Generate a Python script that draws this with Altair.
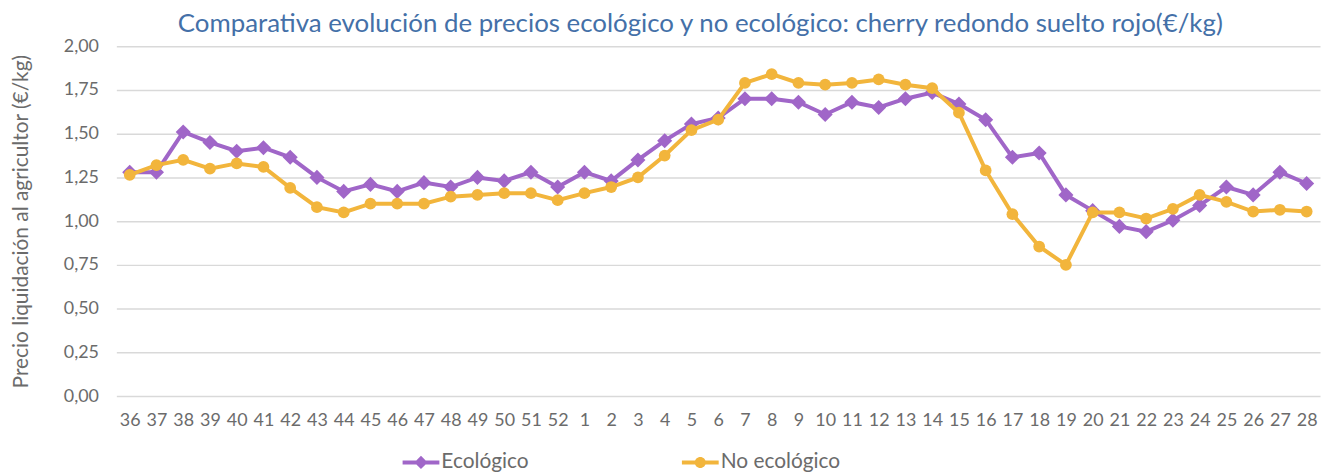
import altair as alt
import pandas as pd

semanas = ["36", "37", "38", "39", "40", "41", "42", "43", "44", "45", "46", "47", "48", "49", "50", "51", "52",
           "1", "2", "3", "4", "5", "6", "7", "8", "9", "10", "11", "12", "13", "14", "15", "16", "17", "18", "19",
           "20", "21", "22", "23", "24", "25", "26", "27", "28"]
ecologico = [1.28, 1.28, 1.51, 1.45, 1.40, 1.42, 1.365, 1.25, 1.17, 1.21, 1.17, 1.22, 1.195, 1.25, 1.23, 1.28, 1.195,
             1.28, 1.23, 1.35, 1.46, 1.555, 1.59, 1.70, 1.70, 1.68, 1.61, 1.68, 1.65, 1.70, 1.735, 1.67, 1.58, 1.365,
             1.39, 1.15, 1.06, 0.97, 0.94, 1.005, 1.09, 1.195, 1.15, 1.28, 1.215]
no_ecologico = [1.265, 1.32, 1.35, 1.30, 1.33, 1.31, 1.19, 1.08, 1.05, 1.10, 1.10, 1.10, 1.14, 1.15, 1.16, 1.16, 1.12,
                1.16, 1.195, 1.25, 1.375, 1.52, 1.58, 1.79, 1.84, 1.79, 1.78, 1.79, 1.81, 1.78, 1.76, 1.62, 1.29, 1.04,
                0.855, 0.75, 1.05, 1.05, 1.015, 1.07, 1.15, 1.11, 1.055, 1.065, 1.055]
series = ["Ecológico", "No ecológico"]
colores = ["#A066C8", "#F2B53C"]
y_ticks = [0, 0.25, 0.5, 0.75, 1.0, 1.25, 1.5, 1.75, 2.0]

rows = []
for i, w in enumerate(semanas):
    rows.append({"semana": w, "orden": i, "serie": series[0], "precio": ecologico[i]})
    rows.append({"semana": w, "orden": i, "serie": series[1], "precio": no_ecologico[i]})
df = pd.DataFrame(rows)

FONT = "Lato"
GREY = "#6b6b6b"

x_enc = alt.X("semana:N", sort=semanas,
              axis=alt.Axis(title=None, labelAngle=0, labelFontSize=18, labelColor=GREY, labelFont=FONT,
                            domain=False, ticks=False, grid=False, labelPadding=16, labelOverlap=False))
y_enc = alt.Y("precio:Q", scale=alt.Scale(domain=[0, 2]),
              axis=alt.Axis(values=y_ticks, labelExpr="replace(format(datum.value, '.2f'), '.', ',')",
                            title="Precio liquidación al agricultor (€/kg)", titleFontSize=21,
                            titleFont=FONT, titleFontWeight="normal", titleColor=GREY, titlePadding=32,
                            labelFontSize=18, labelFont=FONT, labelColor=GREY, labelPadding=18,
                            domain=False, ticks=False, grid=True, gridColor="#D9D9D9", gridWidth=1.5))

base = alt.Chart(df).encode(x=x_enc, y=y_enc, order=alt.Order("orden:Q"))

layers = []
shapes_plot = ["diamond", "circle"]
sizes_plot = [230, 140]
for s, c, sh, sz in zip(series, colores, shapes_plot, sizes_plot):
    f = base.transform_filter(alt.datum.serie == s)
    layers.append(f.mark_line(color=c, strokeWidth=4))
    layers.append(f.mark_point(color=c, filled=True, opacity=1, shape=sh, size=sz, strokeWidth=0))

leg_shapes = [
    "M-1,-0.11 H1 V0.11 H-1 Z M0,-0.36 L0.36,0 L0,0.36 L-0.36,0 Z",
    "M-1,-0.11 H1 V0.11 H-1 Z M0.3,0 A0.3,0.3 0 1,1 -0.3,0 A0.3,0.3 0 1,1 0.3,0 Z",
]
legend_layer = alt.Chart(df).transform_filter("false").mark_point(filled=True, opacity=1).encode(
    x=alt.X("semana:N", sort=semanas),
    y=alt.Y("precio:Q"),
    color=alt.Color("serie:N", scale=alt.Scale(domain=series, range=colores),
                    legend=alt.Legend(title=None, orient="none", legendX=288, legendY=400,
                                      direction="horizontal", labelFontSize=21, labelFont=FONT,
                                      labelColor=GREY, symbolSize=1369, symbolStrokeWidth=0,
                                      columnPadding=154, labelOffset=2)),
    shape=alt.Shape("serie:N", scale=alt.Scale(domain=series, range=leg_shapes)),
)
layers.append(legend_layer)

chart = alt.layer(*layers).properties(
    width=1211, height=352,
    title=alt.TitleParams("Comparativa evolución de precios ecológico y no ecológico: cherry redondo suelto rojo(€/kg)",
                          fontSize=26, font=FONT, fontWeight="normal", color="#4470A8",
                          anchor="middle", offset=0, dx=-18),
    autosize=alt.AutoSizeParams(type="none"),
    padding={"left": 109, "top": 37, "right": 4, "bottom": 85},
).configure_view(stroke=None)

chart.save("out.html", embed_options={"renderer": "svg", "actions": False})
